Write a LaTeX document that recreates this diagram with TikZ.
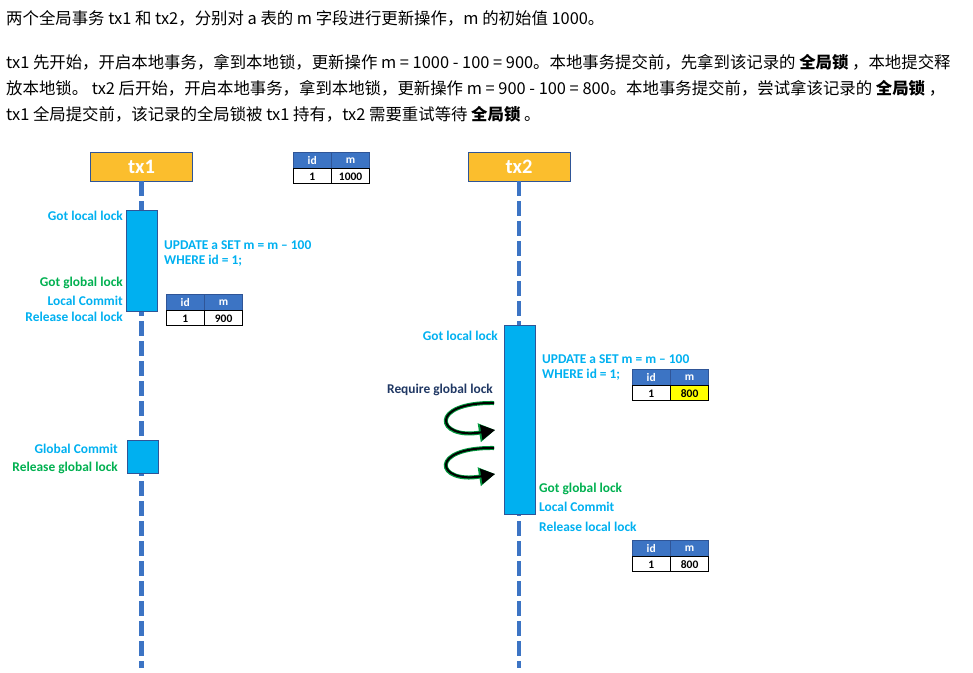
\documentclass[tikz,border=0pt]{standalone}
\usepackage{fontspec}
\setmainfont{Carlito}
\newfontfamily\cjk{Noto Sans CJK SC}
\usetikzlibrary{arrows.meta,positioning,calc}
\definecolor{lockCyan}{RGB}{0,176,240}
\definecolor{lockGreen}{RGB}{0,176,80}
\definecolor{lockNavy}{RGB}{32,56,100}
\definecolor{lockBlue}{RGB}{60,116,196}
\definecolor{lockOrange}{RGB}{251,190,45}
\definecolor{lockBorder}{RGB}{47,85,151}
\definecolor{lockYellow}{RGB}{255,255,0}
\definecolor{lockGlow}{RGB}{0,150,60}

\begin{document}
\begin{tikzpicture}[
  x=1pt,
  y=-1pt,
  intro/.style={
    anchor=west,
    inner sep=0pt,
    font=\cjk\fontsize{16.4}{18}\selectfont
  },
  txhead/.style={
    draw=lockBorder,
    fill=lockOrange,
    minimum width=102pt,
    minimum height=29pt,
    inner sep=0pt,
    text=white,
    font=\bfseries\fontsize{20.5}{22}\selectfont
  },
  lifeline/.style={lockBlue,line width=4.5pt,dash pattern=on 15pt off 5pt},
  active/.style={
    draw=lockBorder,
    fill=lockCyan,
    line width=1pt,
    inner sep=0pt,
    minimum width=31pt
  },
  note/.style={inner sep=0pt,font=\bfseries\fontsize{13.4}{15}\selectfont},
  hcell/.style={
    draw=lockBorder,
    fill=lockBlue,
    text=white,
    minimum width=38pt,
    minimum height=16pt,
    inner sep=0pt,
    font=\bfseries\fontsize{11.5}{12}\selectfont
  },
  dcell/.style={
    draw=black,
    line width=1pt,
    fill=white,
    minimum width=38pt,
    minimum height=15pt,
    inner sep=0pt,
    font=\bfseries\fontsize{11.5}{12}\selectfont
  },
  retry/.style={
    -{Triangle[length=14pt,width=15pt]},
    line width=2pt,
    black,
    preaction={draw=lockGlow,line width=4pt,-{Triangle[length=16pt,width=18pt]}}
  }
]
  \useasboundingbox (0,0) rectangle (973,672);

  % description above the diagram
  \node[intro] (line1) at (6,18) {两个全局事务 tx1 和 tx2，分别对 a 表的 m 字段进行更新操作，m 的初始值 1000。};
  \node[intro] (line2) at (6,62) {tx1 先开始，开启本地事务，拿到本地锁，更新操作 m = 1000 - 100 = 900。本地事务提交前，先拿到该记录的 {\bfseries 全局锁} ，本地提交释};
  \node[intro] (line3) at (6,88) {放本地锁。 tx2 后开始，开启本地事务，拿到本地锁，更新操作 m = 900 - 100 = 800。本地事务提交前，尝试拿该记录的 {\bfseries 全局锁} ，};
  \node[intro] (line4) at (6,114) {tx1 全局提交前，该记录的全局锁被 tx1 持有，tx2 需要重试等待 {\bfseries 全局锁} 。};

  % the two transactions
  \node[txhead] (tx1) at (141.5,166.5) {tx1};
  \node[txhead] (tx2) at (519,166.5) {tx2};
  \coordinate (tx1end) at (141.5,668);
  \coordinate (tx2end) at (519,668);
  \draw[lifeline] (tx1.south) -- (tx1end);
  \draw[lifeline] (tx2.south) -- (tx2end);

  % tx1
  \node[active,minimum height=101pt] (lock1) at (141.5,260.5) {};
  \node[active,minimum height=33pt] (commit1) at (142.5,456.5) {};
  \node[note,anchor=east,text=lockCyan] (gotlocal1) at (123,216) {Got local lock};
  \node[note,anchor=east,text=lockGreen] (gotglobal1) at (123,283) {Got global lock};
  \node[note,anchor=east,text=lockCyan] (localcommit1) at (123,301) {Local Commit};
  \node[note,anchor=east,text=lockCyan] (release1) at (123,317) {Release local lock};
  \node[note,anchor=west,text=lockCyan,align=left] (update1) at (164,254) {UPDATE a SET m = m -- 100\\WHERE id = 1;};
  \node[note,anchor=east,text=lockCyan] (globalcommit1) at (118,449) {Global Commit};
  \node[note,anchor=east,text=lockGreen] (releaseglobal1) at (118,468) {Release global lock};

  % tx2
  \node[active,minimum height=189pt] (lock2) at (520,419.5) {};
  \node[note,anchor=east,text=lockCyan] (gotlocal2) at (498,336) {Got local lock};
  \node[note,anchor=west,text=lockCyan,align=left] (update2) at (542,368) {UPDATE a SET m = m -- 100\\WHERE id = 1;};
  \node[note,anchor=east,text=lockNavy] (require2) at (493,390) {Require global lock};
  \node[note,anchor=west,text=lockGreen] (gotglobal2) at (539,489) {Got global lock};
  \node[note,anchor=west,text=lockCyan] (localcommit2) at (539,507) {Local Commit};
  \node[note,anchor=west,text=lockCyan] (release2) at (539,527) {Release local lock};

  % waiting for the global lock
  \coordinate (wait1a) at (494,403);
  \coordinate (wait1b) at (495,430);
  \coordinate (wait2a) at (494,448);
  \coordinate (wait2b) at (495,474);
  \draw[retry] (wait1a) .. controls (428,402) and (436,440) .. (wait1b);
  \draw[retry] (wait2a) .. controls (428,447) and (436,484) .. (wait2b);

  % rows of table a
  \foreach \tab/\x/\y/\val/\cellfill in {init/293/152/1000/white,tx1done/166/294/900/white,tx2upd/632/369/800/lockYellow,tx2done/632/540/800/white}{
    \node[hcell,anchor=north west] (\tab-id) at (\x,\y) {id};
    \node[hcell,anchor=west] (\tab-m) at (\tab-id.east) {m};
    \node[dcell,anchor=north] (\tab-one) at (\tab-id.south) {1};
    \node[dcell,anchor=north,fill=\cellfill] (\tab-val) at (\tab-m.south) {\val};
  }
\end{tikzpicture}
\end{document}
